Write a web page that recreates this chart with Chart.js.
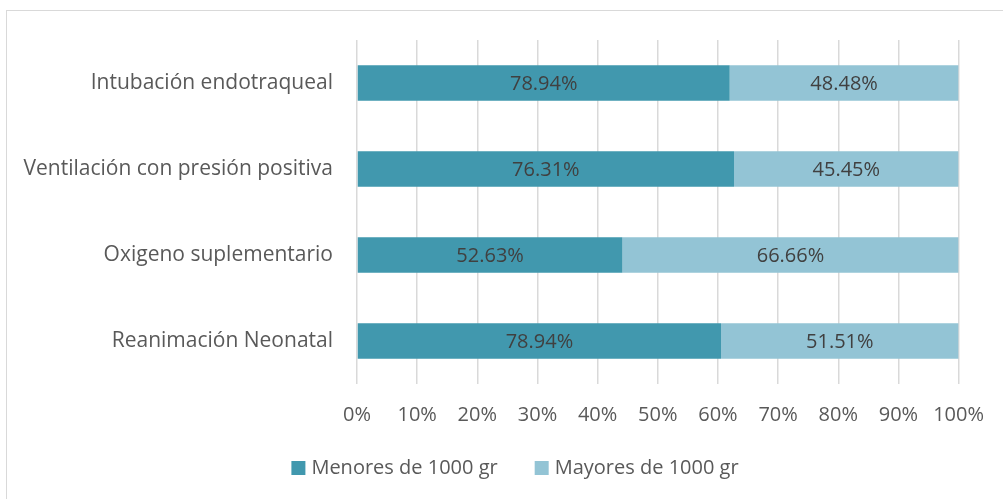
<!DOCTYPE html>
<html lang="es">
  <head>
    <meta charset="UTF-8" />
    <title>Procedimientos por peso</title>
    <script src="https://cdn.jsdelivr.net/npm/chart.js"></script>
    <style>
      html, body { margin: 0; padding: 0; background: #fff; }
      .wrap { position: relative; width: 1003px; height: 499px; overflow: hidden; }
      .frame { position: absolute; left: 6px; top: 10px; width: 1010px; height: 520px; border: 1.5px solid #d9d9d9; box-sizing: border-box; }
      canvas { position: absolute; left: 0; top: 0; }
    </style>
  </head>
  <body>
    <div class="wrap">
      <div class="frame"></div>
      <canvas id="barChart" width="1003" height="499"></canvas>
    </div>
    <script>
      const categorias = ["Intubación endotraqueal", "Ventilación con presión positiva", "Oxigeno suplementario", "Reanimación Neonatal"];
      const menores = [78.94, 76.31, 52.63, 78.94];
      const mayores = [48.48, 45.45, 66.66, 51.51];
      const ticksX = ["0%", "10%", "20%", "30%", "40%", "50%", "60%", "70%", "80%", "90%", "100%"];

      const FONT = "'Open Sans', sans-serif";
      const SIZE = 20;

      // barras al 100%: cada tramo es su parte del total de la fila
      const partes = (a, b) => a.map((v, i) => (v / (v + b[i])) * 100);
      const pctMenores = partes(menores, mayores);
      const pctMayores = partes(mayores, menores);

      // etiqueta con el valor original centrada en cada tramo
      const etiquetas = {
        id: "etiquetas",
        afterDatasetsDraw(chart) {
          const { ctx } = chart;
          ctx.save();
          ctx.font = SIZE + "px " + FONT;
          ctx.fillStyle = "#404040";
          ctx.textAlign = "center";
          ctx.textBaseline = "middle";
          chart.data.datasets.forEach((ds, di) => {
            chart.getDatasetMeta(di).data.forEach((bar, i) => {
              const mid = (bar.x + bar.base) / 2;
              ctx.fillText(ds.raw[i].toFixed(2) + "%", mid, bar.y + 1);
            });
          });
          ctx.restore();
        },
      };

      // leyenda inferior: cuadrado + texto, centrada en x=515
      const leyenda = {
        id: "leyenda",
        afterDraw(chart) {
          const { ctx } = chart;
          const box = 14, gapTxt = 6, gapItem = 37, cy = 468;
          ctx.save();
          ctx.font = SIZE + "px " + FONT;
          ctx.textBaseline = "middle";
          const items = chart.data.datasets.map((ds) => ({ ds, w: ctx.measureText(ds.label).width }));
          const total = items.reduce((s, it) => s + box + gapTxt + it.w, 0) + gapItem * (items.length - 1);
          let x = 515 - total / 2;
          items.forEach(({ ds, w }) => {
            ctx.fillStyle = ds.backgroundColor;
            ctx.fillRect(x, cy - box / 2, box, box);
            ctx.fillStyle = "#595959";
            ctx.fillText(ds.label, x + box + gapTxt, cy);
            x += box + gapTxt + w + gapItem;
          });
          ctx.restore();
        },
      };

      new Chart(document.getElementById("barChart"), {
        type: "bar",
        data: {
          labels: categorias,
          datasets: [
            { label: "Menores de 1000 gr", data: pctMenores, raw: menores, backgroundColor: "#4198ae" },
            { label: "Mayores de 1000 gr", data: pctMayores, raw: mayores, backgroundColor: "#93c4d5" },
          ],
        },
        plugins: [etiquetas, leyenda],
        options: {
          indexAxis: "y",
          responsive: false,
          animation: false,
          categoryPercentage: 1,
          barPercentage: 0.41,
          layout: { padding: { top: 40, right: 44, bottom: 0, left: 0 } },
          plugins: {
            tooltip: { enabled: false },
            legend: { display: false },
          },
          scales: {
            x: {
              stacked: true,
              min: 0,
              max: 100,
              border: { display: false },
              grid: { color: "#d9d9d9", lineWidth: 1.5, drawTicks: false },
              afterFit: (s) => { s.height = 115; },
              ticks: {
                stepSize: 10,
                padding: 19,
                color: "#595959",
                font: { size: SIZE, family: FONT },
                callback: (v, i) => ticksX[i],
              },
            },
            y: {
              stacked: true,
              border: { display: false },
              grid: { display: false },
              afterFit: (s) => { s.width = 357; },
              ticks: {
                padding: 16,
                color: "#595959",
                font: { size: 21, family: FONT },
              },
            },
          },
        },
      });
    </script>
  </body>
</html>
